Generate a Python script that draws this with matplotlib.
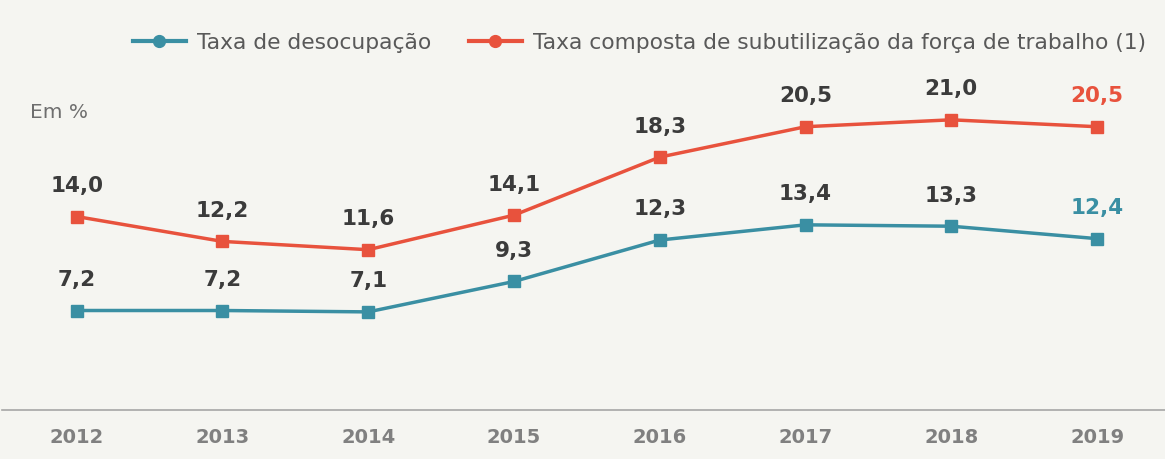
import matplotlib.pyplot as plt

years = [2012, 2013, 2014, 2015, 2016, 2017, 2018, 2019]
desocupacao = [7.2, 7.2, 7.1, 9.3, 12.3, 13.4, 13.3, 12.4]
subutilizacao = [14.0, 12.2, 11.6, 14.1, 18.3, 20.5, 21.0, 20.5]

teal = '#3a8fa3'
red = '#e8523d'
bg = '#f5f5f1'
dark = '#3b3b3b'

plt.rcParams['font.family'] = ['DejaVu Sans']

fig = plt.figure(figsize=(11.65, 4.59), dpi=100, facecolor=bg)
ax = fig.add_axes([0.002, 49 / 459, 0.998, 410 / 459])
ax.set_facecolor(bg)

ax.plot(years, desocupacao, color=teal, lw=2.5, marker='s', ms=9, label='Taxa de desocupação')
ax.plot(years, subutilizacao, color=red, lw=2.5, marker='s', ms=9,
        label='Taxa composta de subutilização da força de trabalho (1)')

for i, (x, a, b) in enumerate(zip(years, desocupacao, subutilizacao)):
    last = i == len(years) - 1
    ax.annotate(f'{a:.1f}'.replace('.', ','), (x, a), xytext=(0, 22), textcoords='offset points',
                ha='center', va='center', fontsize=15.5, fontweight='bold', color=teal if last else dark)
    ax.annotate(f'{b:.1f}'.replace('.', ','), (x, b), xytext=(0, 22), textcoords='offset points',
                ha='center', va='center', fontsize=15.5, fontweight='bold', color=red if last else dark)

ax.set_xlim(2011.49, 2019.466)
ax.set_ylim(0, 29.67)
ax.set_yticks([])
ax.set_xticks(years)
ax.set_xticklabels([str(y) for y in years], fontsize=14, fontweight='bold', color='#808080')
ax.tick_params(axis='x', length=0, pad=13)
for side in ['top', 'left', 'right']:
    ax.spines[side].set_visible(False)
ax.spines['bottom'].set_color('#a6a6a6')
ax.spines['bottom'].set_linewidth(1.2)

ax.text(30 / 1165, 1 - 112 / 459, 'Em %', transform=fig.transFigure, fontsize=14.5, color='#6e6e6e',
        ha='left', va='center')

handles = [plt.Line2D([], [], color=c, lw=3, marker='o', ms=8.5) for c in (teal, red)]
leg = fig.legend(handles, ['Taxa de desocupação', 'Taxa composta de subutilização da força de trabalho (1)'],
                 loc='center left', bbox_to_anchor=(113 / 1165, 1 - 43 / 459), ncol=2, frameon=False,
                 fontsize=15.7, handlelength=2.43, columnspacing=1.75, handletextpad=0.5)
for t in leg.get_texts():
    t.set_color('#595959')

fig.savefig('out.png', dpi=100, facecolor=bg)
